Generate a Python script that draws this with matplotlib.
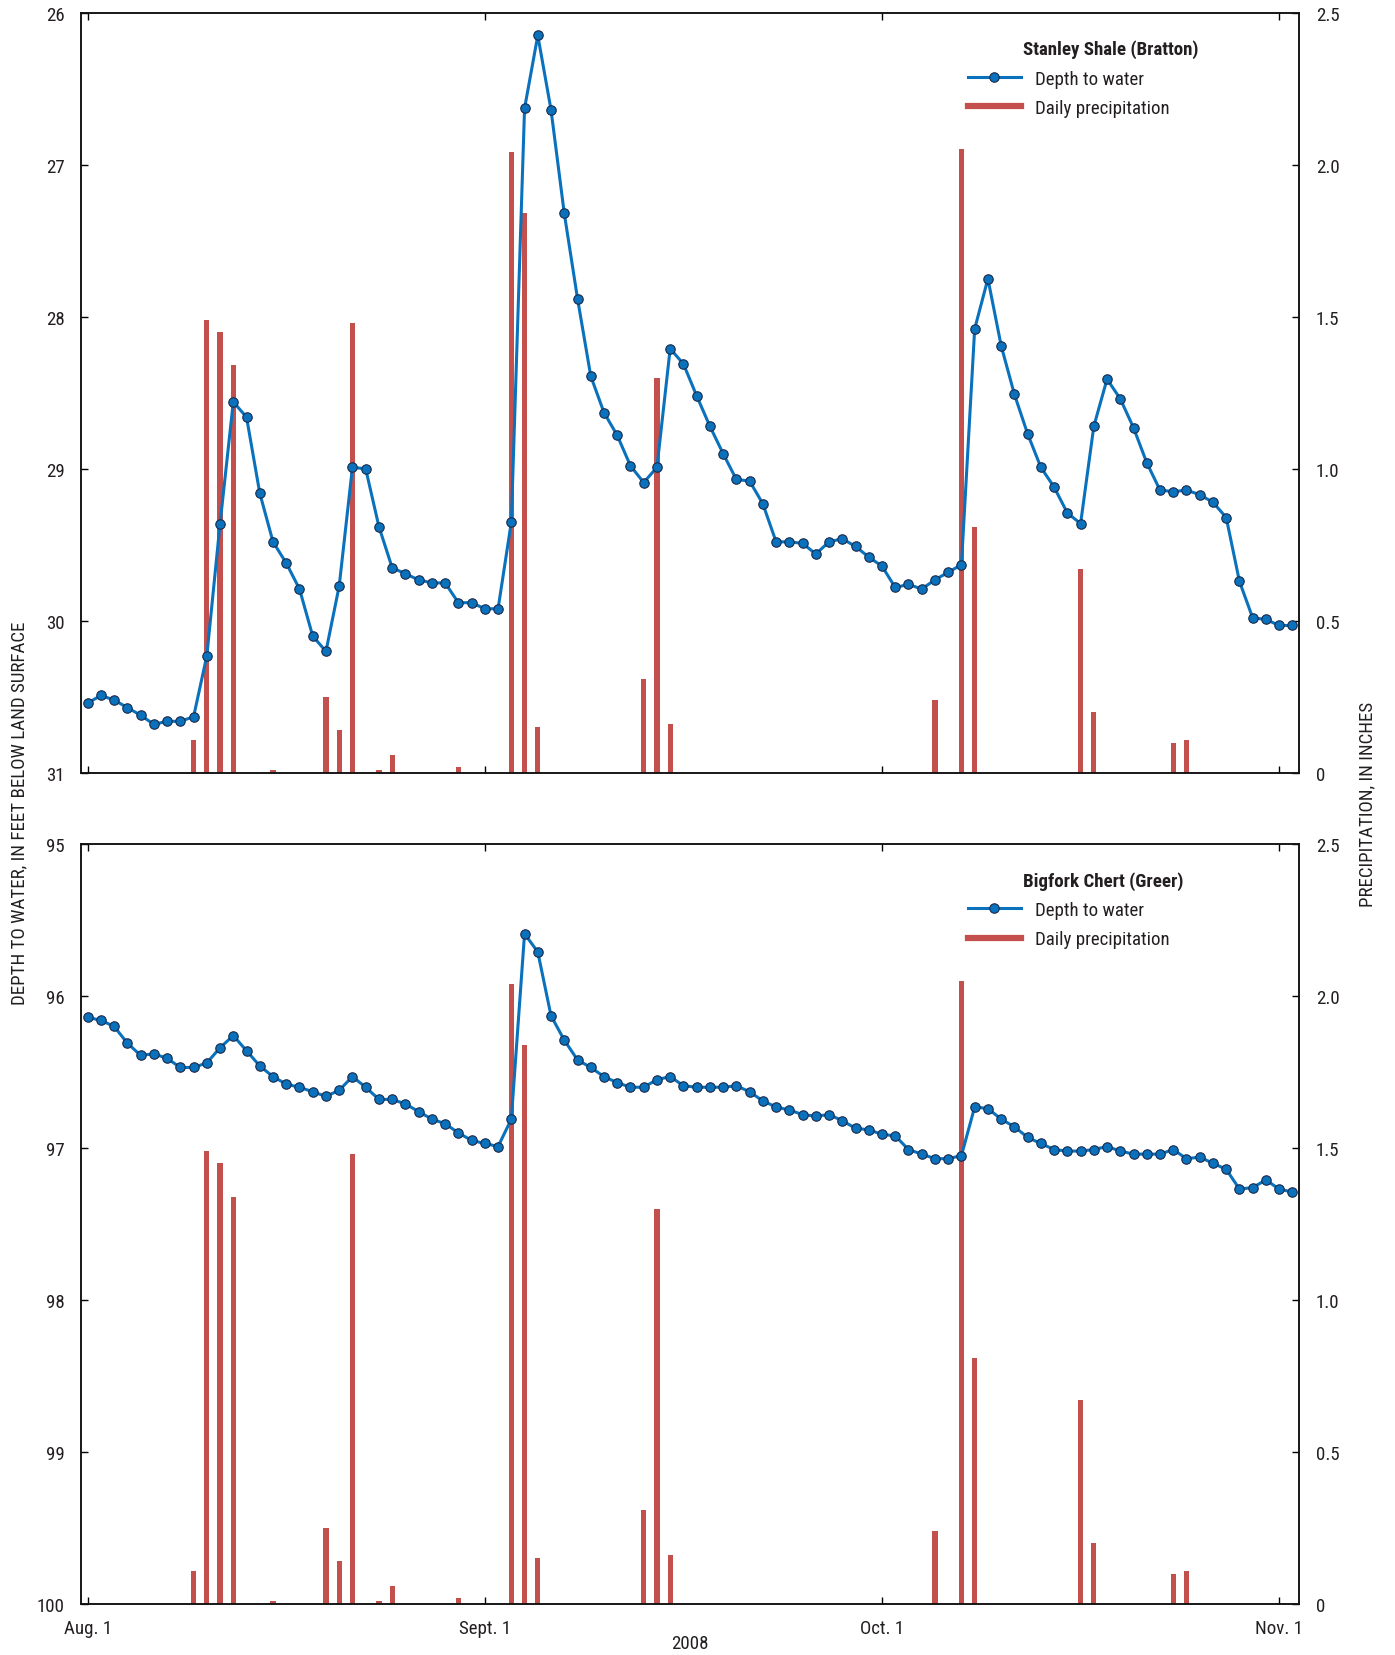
import matplotlib
matplotlib.use("Agg")
import matplotlib.pyplot as plt
from matplotlib.lines import Line2D

plt.rcParams['font.family'] = ['Roboto Condensed', 'Roboto', 'DejaVu Sans']

# daily values, day 0 = Aug. 1, 2008
days = list(range(92))

bratton_depth = [30.54, 30.49, 30.52, 30.57, 30.62, 30.68, 30.66, 30.66, 30.63, 30.23,
                 29.36, 28.56, 28.66, 29.16, 29.48, 29.62, 29.79, 30.10, 30.20, 29.77,
                 28.99, 29.00, 29.38, 29.65, 29.69, 29.73, 29.75, 29.75, 29.88, 29.88,
                 29.92, 29.92, 29.35, 26.63, 26.15, 26.64, 27.32, 27.88, 28.39, 28.63,
                 28.78, 28.98, 29.09, 28.99, 28.21, 28.31, 28.52, 28.72, 28.90, 29.07,
                 29.08, 29.23, 29.48, 29.48, 29.49, 29.56, 29.48, 29.46, 29.51, 29.58,
                 29.64, 29.78, 29.76, 29.79, 29.73, 29.68, 29.63, 28.08, 27.75, 28.19,
                 28.51, 28.77, 28.99, 29.12, 29.29, 29.36, 28.72, 28.41, 28.54, 28.73,
                 28.96, 29.14, 29.15, 29.14, 29.17, 29.22, 29.32, 29.74, 29.98, 29.99,
                 30.03, 30.03]

greer_depth = [96.14, 96.16, 96.20, 96.31, 96.39, 96.38, 96.41, 96.47, 96.47, 96.44,
               96.34, 96.26, 96.36, 96.46, 96.53, 96.58, 96.60, 96.63, 96.66, 96.62,
               96.53, 96.60, 96.68, 96.68, 96.71, 96.76, 96.81, 96.84, 96.90, 96.95,
               96.97, 96.99, 96.81, 95.59, 95.71, 96.13, 96.29, 96.42, 96.47, 96.53,
               96.57, 96.60, 96.60, 96.55, 96.53, 96.59, 96.60, 96.60, 96.60, 96.59,
               96.63, 96.69, 96.73, 96.75, 96.78, 96.79, 96.78, 96.82, 96.87, 96.88,
               96.91, 96.92, 97.01, 97.04, 97.07, 97.07, 97.05, 96.73, 96.74, 96.81,
               96.86, 96.93, 96.97, 97.01, 97.02, 97.02, 97.01, 96.99, 97.02, 97.04,
               97.04, 97.04, 97.01, 97.07, 97.06, 97.10, 97.14, 97.27, 97.26, 97.21,
               97.27, 97.29]

rain_day = [8, 9, 10, 11, 14, 18, 19, 20, 22, 23, 28, 32, 33, 34, 42, 43, 44,
            64, 66, 67, 75, 76, 82, 83]
rain_in = [0.11, 1.49, 1.45, 1.34, 0.01, 0.25, 0.14, 1.48, 0.01, 0.06, 0.02,
           2.04, 1.84, 0.15, 0.31, 1.30, 0.16, 0.24, 2.05, 0.81, 0.67, 0.20,
           0.10, 0.11]

month_ticks = [0, 30, 60, 90]
month_labels = ['Aug. 1', 'Sept. 1', 'Oct. 1', 'Nov. 1']

blue = '#0a71bd'
red = '#c4504d'
txt = '#231f20'
fs = 13.6

fig = plt.figure(figsize=(13.95, 16.56), dpi=100)

panels = [
    ([0.0581, 0.5326, 0.8731, 0.4592], bratton_depth, (31, 26), 'Stanley Shale (Bratton)'),
    ([0.0581, 0.0308, 0.8731, 0.4589], greer_depth, (100, 95), 'Bigfork Chert (Greer)'),
]

for i, (rect, depth, ylim, name) in enumerate(panels):
    ax = fig.add_axes(rect)
    axp = ax.twinx()
    ax.set_zorder(axp.get_zorder() + 1)
    ax.patch.set_visible(False)

    axp.bar(rain_day, rain_in, width=0.4, color=red, edgecolor='none')
    axp.set_ylim(0, 2.5)
    axp.set_yticks([0, 0.5, 1.0, 1.5, 2.0, 2.5])
    axp.set_yticklabels(['0', '0.5', '1.0', '1.5', '2.0', '2.5'])

    ax.plot(days, depth, color=blue, lw=2.2, marker='o', ms=6.8,
            mfc=blue, mec='#1a2a4a', mew=0.8, clip_on=False)
    ax.set_ylim(*ylim)
    ax.set_yticks(range(min(ylim), max(ylim) + 1))
    ax.set_xlim(-0.5, 91.5)
    ax.set_xticks(month_ticks)
    if i == 1:
        ax.set_xticklabels(month_labels)
        ax.set_xlabel('2008', fontsize=fs, color=txt)
        ax.xaxis.set_label_coords(0.5, -0.04)
    else:
        ax.set_xticklabels([])

    for a in (ax, axp):
        for s in a.spines.values():
            s.set_linewidth(1.1)
            s.set_color('#111111')
        a.tick_params(direction='in', length=5, width=1.0, labelsize=fs,
                      labelcolor=txt, pad=12)
    ax.tick_params(axis='x', top=True, pad=11)
    axp.tick_params(axis='x', top=True)

    ax.text(0.773, 0.952, name, transform=ax.transAxes, fontsize=fs,
            fontweight='bold', color=txt, ha='left', va='center')
    handles = [
        Line2D([], [], color=blue, lw=2.2, marker='o', ms=6.8, mfc=blue,
               mec='#1a2a4a', mew=0.8),
        Line2D([], [], color=red, lw=4.5),
    ]
    ax.legend(handles, ['Depth to water', 'Daily precipitation'],
              loc='upper left', bbox_to_anchor=(0.728, 0.925), frameon=False,
              fontsize=fs, handlelength=2.8, handletextpad=0.75,
              labelspacing=0.6, borderaxespad=0, borderpad=0,
              labelcolor=txt)

fig.text(0.0136, 0.509, 'DEPTH TO WATER, IN FEET BELOW LAND SURFACE',
         rotation=90, ha='center', va='center', fontsize=fs, color=txt)
fig.text(0.980, 0.514, 'PRECIPITATION, IN INCHES', rotation=90,
         ha='center', va='center', fontsize=fs, color=txt)

fig.savefig('out.png', dpi=100)
